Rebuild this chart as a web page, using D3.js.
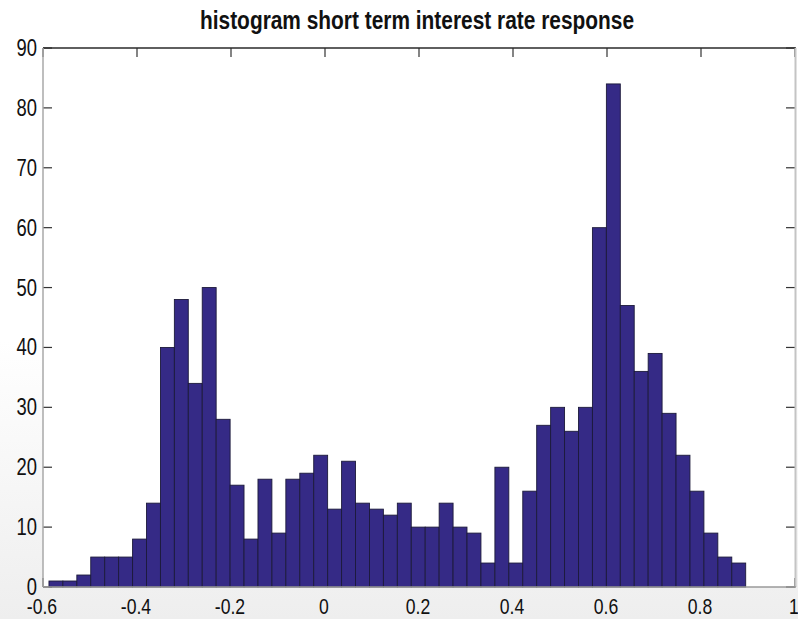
<!DOCTYPE html>
<html>
<head>
<meta charset="utf-8">
<script src="https://cdn.jsdelivr.net/npm/d3@7"></script>
<style>
  html, body { margin: 0; padding: 0; }
  body { width: 798px; height: 619px; overflow: hidden;
         background: linear-gradient(to bottom, #ffffff 0%, #ffffff 55%, #eeeeee 100%); }
  svg { display: block; }
  .lbl { font-family: "Liberation Sans", Arial, Helvetica, sans-serif; fill: #111; }
</style>
</head>
<body>
<svg id="chart" width="798" height="619"></svg>
<script>
// ---- data ----
const titleText = "histogram short term interest rate response";
const binCenters = [
  -0.5725, -0.5429, -0.5132, -0.4836, -0.4539, -0.4243, -0.3946, -0.3650, -0.3353, -0.3057,
  -0.2760, -0.2464, -0.2167, -0.1871, -0.1574, -0.1278, -0.0981, -0.0685, -0.0388, -0.0092,
   0.0205,  0.0501,  0.0798,  0.1094,  0.1391,  0.1687,  0.1984,  0.2280,  0.2577,  0.2873,
   0.3170,  0.3466,  0.3763,  0.4059,  0.4356,  0.4652,  0.4949,  0.5245,  0.5542,  0.5838,
   0.6135,  0.6431,  0.6728,  0.7024,  0.7321,  0.7617,  0.7914,  0.8210,  0.8507,  0.8803
];
const counts = [
   1,  1,  2,  5,  5,  5,  8, 14, 40, 48,
  34, 50, 28, 17,  8, 18,  9, 18, 19, 22,
  13, 21, 14, 13, 12, 14, 10, 10, 14, 10,
   9,  4, 20,  4, 16, 27, 30, 26, 30, 60,
  84, 47, 36, 39, 29, 22, 16,  9,  5,  4
];
const xTicks = [-0.6, -0.4, -0.2, 0, 0.2, 0.4, 0.6, 0.8, 1];
const xTickLabels = ["-0.6", "-0.4", "-0.2", "0", "0.2", "0.4", "0.6", "0.8", "1"];
const yTicks = [0, 10, 20, 30, 40, 50, 60, 70, 80, 90];
const yTickLabels = ["0", "10", "20", "30", "40", "50", "60", "70", "80", "90"];

// ---- layout ----
const L = 43, R = 795, T = 48, B = 587;
const NARROW = 0.8;
const svg = d3.select("#chart");
const x = d3.scaleLinear().domain([-0.6, 1]).range([L, R]);
const y = d3.scaleLinear().domain([0, 90]).range([B, T]);
const binW = binCenters[1] - binCenters[0];

// plot background
svg.append("rect").attr("x", L).attr("y", T).attr("width", R - L).attr("height", B - T).attr("fill", "#ffffff");

// inner ticks (drawn below bars)
const tk = svg.append("g").attr("stroke", "#333").attr("stroke-width", 1.2);
yTicks.forEach(v => {
  tk.append("line").attr("x1", L).attr("x2", L + 9).attr("y1", y(v)).attr("y2", y(v));
  tk.append("line").attr("x1", R - 9).attr("x2", R).attr("y1", y(v)).attr("y2", y(v));
});
xTicks.forEach(v => {
  tk.append("line").attr("x1", x(v)).attr("x2", x(v)).attr("y1", T).attr("y2", T + 9);
  tk.append("line").attr("x1", x(v)).attr("x2", x(v)).attr("y1", B - 9).attr("y2", B);
});

// bars
svg.append("g").selectAll("rect").data(binCenters).join("rect")
  .attr("x", (c) => x(c - binW / 2))
  .attr("width", (c) => x(c + binW / 2) - x(c - binW / 2))
  .attr("y", (c, i) => y(counts[i]))
  .attr("height", (c, i) => y(0) - y(counts[i]))
  .attr("fill", "#352a86")
  .attr("stroke", "#1c1a3a")
  .attr("stroke-width", 0.9);

// frame
svg.append("line").attr("x1", L).attr("x2", R + 1).attr("y1", T).attr("y2", T).attr("stroke", "#2a2a2a").attr("stroke-width", 1.5);
svg.append("line").attr("x1", L).attr("x2", L).attr("y1", T).attr("y2", B).attr("stroke", "#a8a8a8").attr("stroke-width", 1.5);
svg.append("line").attr("x1", R + 0.5).attr("x2", R + 0.5).attr("y1", T).attr("y2", B).attr("stroke", "#c4c4c4").attr("stroke-width", 2);
svg.append("line").attr("x1", L).attr("x2", R + 1).attr("y1", B).attr("y2", B).attr("stroke", "#9a9a9a").attr("stroke-width", 1.5);

// y tick labels (condensed)
svg.append("g").selectAll("text").data(yTicks).join("text")
  .attr("class", "lbl")
  .attr("transform", (v) => `translate(37,${y(v) + 8}) scale(${NARROW},1)`)
  .attr("text-anchor", "end")
  .attr("font-size", 23)
  .text((v, i) => yTickLabels[i]);

// x tick labels (condensed)
svg.append("g").selectAll("text").data(xTicks).join("text")
  .attr("class", "lbl")
  .attr("transform", (v) => `translate(${x(v) - 1},614) scale(${NARROW},1)`)
  .attr("text-anchor", "middle")
  .attr("font-size", 22)
  .text((v, i) => xTickLabels[i]);

// title
svg.append("text").attr("class", "lbl")
  .attr("x", 417).attr("y", 29)
  .attr("text-anchor", "middle")
  .attr("font-size", 25).attr("font-weight", "bold")
  .attr("textLength", 434).attr("lengthAdjust", "spacingAndGlyphs")
  .text(titleText);
</script>
</body>
</html>
